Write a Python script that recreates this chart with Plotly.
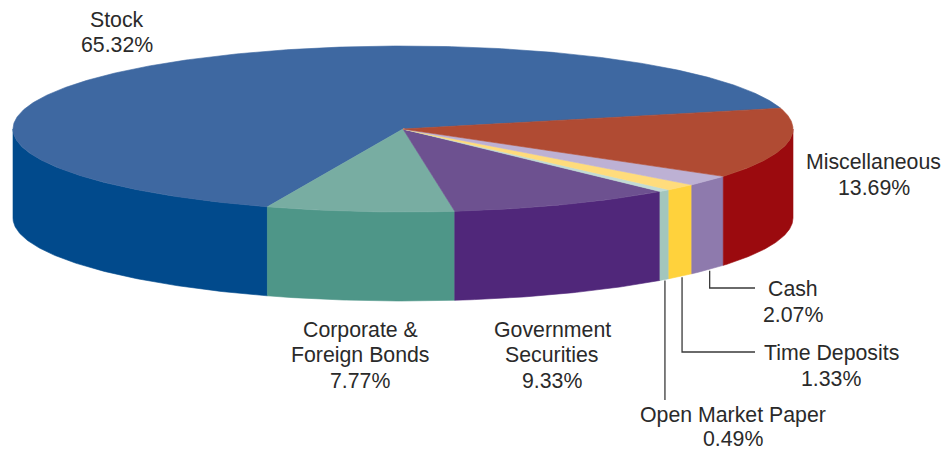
import math
import plotly.graph_objects as go

# --- data ---
categories = ["Stock", "Corporate & Foreign Bonds", "Government Securities",
              "Open Market Paper", "Time Deposits", "Cash", "Miscellaneous"]
values = [65.32, 7.77, 9.33, 0.49, 1.33, 2.07, 13.69]
label_lines = [["Stock", "65.32%"],
               ["Corporate &", "Foreign Bonds", "7.77%"],
               ["Government", "Securities", "9.33%"],
               ["Open Market Paper", "0.49%"],
               ["Time Deposits", "1.33%"],
               ["Cash", "2.07%"],
               ["Miscellaneous", "13.69%"]]

# --- styles ---
top_colors = ["#3e68a1", "#78ada2", "#6d5190", "#c3dcd5", "#ffdc7c", "#bdb1d4", "#b04b33"]
side_colors = ["#014a8c", "#4e9688", "#50277a", "#a3c6bd", "#ffd23c", "#8e7aad", "#9b0a0e"]
TEXT = "#2a2a2a"
LEADER = "#3a3a3a"
FONT = "Liberation Sans, Arial, sans-serif"
FS = 21.3

# --- geometry (pixels of the picture) ---
W, H = 948, 451
CX, CY, A, B, DEPTH = 403, 129, 390, 83, 89
START = 14.5  # degrees: where Stock begins, going round counter-clockwise


def pt(deg, dy=0):
    r = math.radians(deg)
    return CX + A * math.cos(r), CY - B * math.sin(r) + dy


def arc(a0, a1, dy=0):
    n = max(2, int(abs(a1 - a0) * 2) + 2)
    return [pt(a0 + (a1 - a0) * i / (n - 1), dy) for i in range(n)]


# angle spans from the values: Stock starts at START and the others follow
total = sum(values)
spans = []
cur = START
for v in values:
    nxt = cur + v / total * 360
    spans.append((cur, nxt))
    cur = nxt

fig = go.Figure()


def poly(points, color, name):
    fig.add_trace(go.Scatter(
        x=[p[0] for p in points] + [points[0][0]],
        y=[p[1] for p in points] + [points[0][1]],
        mode="lines", fill="toself", fillcolor=color,
        line=dict(color=color, width=0.6), name=name,
        hoverinfo="name", showlegend=False))


# outer walls: only the front half (180..360 degrees) is visible
for (a0, a1), col, name in zip(spans, side_colors, categories):
    for lo, hi in ((180, 360), (540, 720)):
        s, e = max(a0, lo), min(a1, hi)
        if e > s:
            poly(arc(s, e) + arc(e, s, DEPTH), col, name)

# top faces
for (a0, a1), col, name in zip(spans, top_colors, categories):
    poly([(CX, CY)] + arc(a0, a1), col, name)

# leader lines for the three narrow slices
leader_ends = {"Open Market Paper": (400, None), "Time Deposits": (352, 755), "Cash": (288, 755)}
leader_dx = {"Open Market Paper": 0.5, "Time Deposits": 1.5, "Cash": 1.5}
for (a0, a1), name in zip(spans, categories):
    if name in leader_ends:
        y_end, x_end = leader_ends[name]
        x0, y0 = pt((a0 + a1) / 2, DEPTH)
        x0 += leader_dx[name]
        xs, ys = [x0, x0], [y0 + 1, y_end]
        if x_end:
            xs.append(x_end)
            ys.append(y_end)
        fig.add_trace(go.Scatter(x=xs, y=ys, mode="lines",
                                 line=dict(color=LEADER, width=1.3),
                                 hoverinfo="skip", showlegend=False))

# label positions: centre x and centre y of each text line
label_pos = {
    "Stock": (117, [20, 45]),
    "Corporate & Foreign Bonds": (360, [330, 355, 381]),
    "Government Securities": (552, [330, 355, 381]),
    "Open Market Paper": (733, [414.5, 439]),
    "Time Deposits": (831, [353, 379]),
    "Cash": (793, [289, 315]),
    "Miscellaneous": (873.5, [162, 188]),
}
for name, lines in zip(categories, label_lines):
    x, ys = label_pos[name]
    for line, y in zip(lines, ys):
        fig.add_annotation(x=x, y=y, text=line, showarrow=False, xanchor="center",
                           yanchor="middle", font=dict(family=FONT, size=FS, color=TEXT))

fig.update_layout(
    width=W, height=H, margin=dict(l=0, r=0, t=0, b=0),
    paper_bgcolor="white", plot_bgcolor="white", showlegend=False,
    xaxis=dict(range=[0, W], visible=False, fixedrange=True),
    yaxis=dict(range=[H, 0], visible=False, fixedrange=True),
)
fig.write_html("out.html", config={"displayModeBar": False},
               post_script="document.body.style.margin='0';document.documentElement.style.overflow='hidden';")
